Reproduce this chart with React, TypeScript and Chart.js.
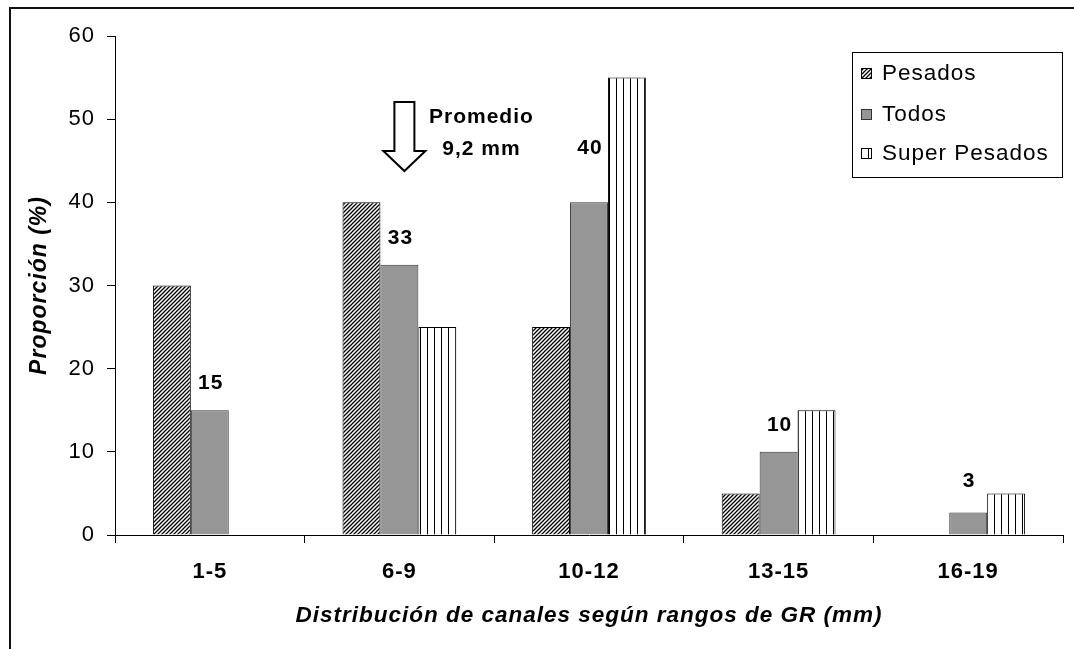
import React, { useEffect, useRef } from "react";
import { Chart, registerables } from "chart.js";

Chart.register(...registerables);

const categories = ["1-5", "6-9", "10-12", "13-15", "16-19"];
const seriesNames = ["Pesados", "Todos", "Super Pesados"];
const pesados: (number | null)[] = [30, 40, 25, 5, null];
const todos: (number | null)[] = [15, 32.5, 40, 10, 2.7];
const superPesados: (number | null)[] = [null, 25, 55, 15, 5];
const todosLabels = ["15", "33", "40", "10", "3"];
const yTicks = [0, 10, 20, 30, 40, 50, 60];
const annotationLines = ["Promedio", "9,2 mm"];

const FONT = "Arial, 'Liberation Sans', sans-serif";

function makeDiagonal(): CanvasPattern | string {
  const c = document.createElement("canvas");
  c.width = 4;
  c.height = 4;
  const g = c.getContext("2d");
  if (!g) return "#fff";
  g.fillStyle = "#fff";
  g.fillRect(0, 0, 4, 4);
  g.strokeStyle = "#000";
  g.lineWidth = 1.3;
  g.beginPath();
  g.moveTo(-1, 5);
  g.lineTo(5, -1);
  g.moveTo(-1, 1);
  g.lineTo(1, -1);
  g.moveTo(3, 5);
  g.lineTo(5, 3);
  g.stroke();
  return g.createPattern(c, "repeat") || "#fff";
}

function makeVertical(): CanvasPattern | string {
  const c = document.createElement("canvas");
  c.width = 7;
  c.height = 4;
  const g = c.getContext("2d");
  if (!g) return "#fff";
  g.fillStyle = "#fff";
  g.fillRect(0, 0, 7, 4);
  g.fillStyle = "#000";
  g.fillRect(0, 0, 1, 4);
  return g.createPattern(c, "repeat") || "#fff";
}

const decorPlugin = {
  id: "decor",
  beforeDraw(chart: any) {
    const ctx = chart.ctx as any;
    if ("letterSpacing" in ctx) ctx.letterSpacing = "1px";
  },
  afterDatasetsDraw(chart: any) {
    const ctx = chart.ctx as CanvasRenderingContext2D;
    const xs = chart.scales.x;
    const meta = chart.getDatasetMeta(1);
    const lift = [27, 27, 54, 27, 31];
    ctx.save();
    ctx.fillStyle = "#000";
    ctx.font = `bold 21px ${FONT}`;
    ctx.textAlign = "center";
    ctx.textBaseline = "middle";
    meta.data.forEach((el: any, i: number) => {
      if (todos[i] == null) return;
      ctx.fillText(todosLabels[i], el.x + 1, el.y - lift[i]);
    });
    ctx.restore();

    const ax = xs.getPixelForValue(1) + 5;
    ctx.save();
    ctx.strokeStyle = "#000";
    ctx.fillStyle = "#fff";
    ctx.lineWidth = 2;
    ctx.lineJoin = "miter";
    ctx.beginPath();
    ctx.moveTo(ax - 10, 102);
    ctx.lineTo(ax + 10, 102);
    ctx.lineTo(ax + 10, 151);
    ctx.lineTo(ax + 21, 151);
    ctx.lineTo(ax, 171);
    ctx.lineTo(ax - 21, 151);
    ctx.lineTo(ax - 10, 151);
    ctx.closePath();
    ctx.fill();
    ctx.stroke();
    ctx.fillStyle = "#000";
    ctx.font = `bold 21px ${FONT}`;
    ctx.textAlign = "center";
    ctx.textBaseline = "middle";
    ctx.fillText(annotationLines[0], ax + 77, 117);
    ctx.fillText(annotationLines[1], ax + 77, 149);
    ctx.restore();
  },
  afterDraw(chart: any) {
    const ctx = chart.ctx as CanvasRenderingContext2D;
    ctx.save();
    ctx.strokeStyle = "#111";
    ctx.lineWidth = 2;
    ctx.beginPath();
    ctx.moveTo(10, 649);
    ctx.lineTo(10, 8);
    ctx.lineTo(1074, 8);
    ctx.stroke();

    const lx = 852, ly = 52, lw = 210, lh = 125;
    ctx.fillStyle = "#fff";
    ctx.fillRect(lx, ly, lw, lh);
    ctx.strokeStyle = "#000";
    ctx.lineWidth = 1;
    ctx.strokeRect(lx + 0.5, ly + 0.5, lw, lh);
    const rows = [73, 114, 153];
    ctx.font = `22.5px ${FONT}`;
    ctx.textBaseline = "middle";
    ctx.textAlign = "left";
    chart.data.datasets.forEach((ds: any, i: number) => {
      const cy = rows[i];
      ctx.fillStyle = ds.backgroundColor;
      ctx.fillRect(861, cy - 5, 11, 11);
      ctx.strokeStyle = ds.borderColor;
      ctx.strokeRect(861.5, cy - 4.5, 10, 10);
      ctx.fillStyle = "#000";
      ctx.fillText(ds.label, 882, cy + 1);
    });
    ctx.restore();
  },
};

export default function App() {
  const ref = useRef<HTMLCanvasElement | null>(null);
  useEffect(() => {
    if (!ref.current) return;
    const diag = makeDiagonal();
    const vert = makeVertical();
    const chart = new Chart(ref.current, {
      type: "bar",
      data: {
        labels: categories,
        datasets: [
          { label: seriesNames[0], data: pesados, backgroundColor: diag as any, borderColor: "#000", borderWidth: 1 },
          { label: seriesNames[1], data: todos, backgroundColor: "#969696", borderColor: "#333", borderWidth: 1 },
          { label: seriesNames[2], data: superPesados, backgroundColor: vert as any, borderColor: "#000", borderWidth: 1 },
        ],
      },
      options: {
        animation: false,
        responsive: false,
        devicePixelRatio: 1,
        layout: { padding: { left: 10, right: 11, top: 36, bottom: 0 } },
        datasets: { bar: { categoryPercentage: 0.6, barPercentage: 1 } },
        plugins: { legend: { display: false }, tooltip: { enabled: false } },
        scales: {
          x: {
            grid: { offset: true, drawOnChartArea: false, tickLength: 8, color: "#000", lineWidth: 1 },
            border: { color: "#000", width: 1 },
            ticks: { color: "#000", font: { family: FONT, size: 22, weight: "bold" }, padding: 16 },
            title: {
              display: true,
              text: "Distribución de canales según rangos de GR (mm)",
              color: "#000",
              font: { family: FONT, size: 22.5, weight: "bold", style: "italic" },
              padding: { top: 0, bottom: 20 },
            },
            afterFit: (s: any) => { s.height = 114; },
          },
          y: {
            min: 0,
            max: 60,
            afterBuildTicks: (s: any) => { s.ticks = yTicks.map((v) => ({ value: v })); },
            grid: { drawOnChartArea: false, tickLength: 8, color: "#000", lineWidth: 1 },
            border: { color: "#000", width: 1 },
            ticks: { color: "#000", font: { family: FONT, size: 22 }, padding: 12 },
            title: {
              display: true,
              text: "Proporción (%)",
              color: "#000",
              font: { family: FONT, size: 23, weight: "bold", style: "italic" },
              padding: { top: 16, bottom: 0 },
            },
            afterFit: (s: any) => { s.width = 105; },
          },
        },
      },
      plugins: [decorPlugin],
    } as any);
    return () => chart.destroy();
  }, []);
  return (
    <div style={{ position: "absolute", left: 0, top: 0, width: 1074, height: 649, background: "#fff" }}>
      <canvas ref={ref} width={1074} height={649} style={{ display: "block" }} />
    </div>
  );
}
